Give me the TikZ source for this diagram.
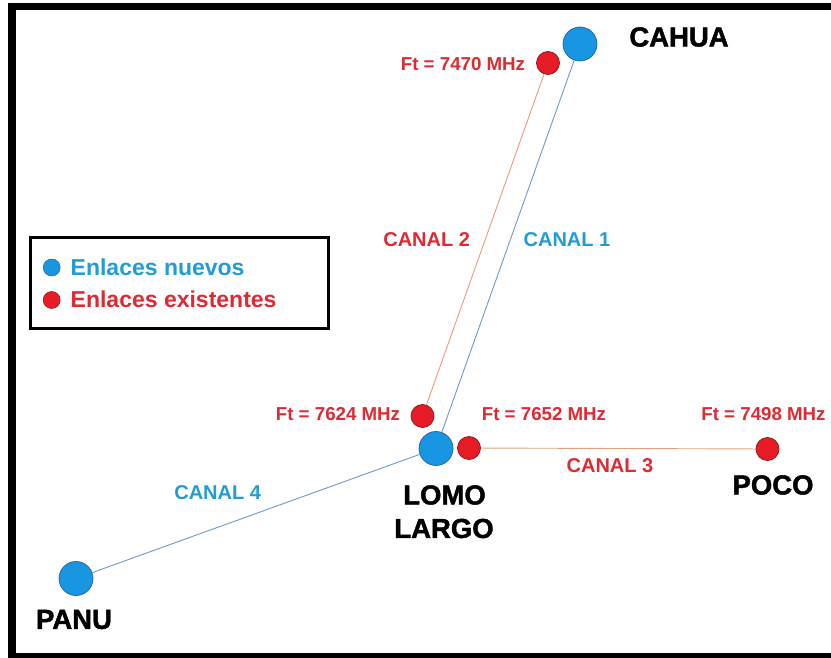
\documentclass[tikz,border=0pt]{standalone}
\usepackage{fontspec}
\setmainfont{Liberation Sans}
\newfontfamily\heavyfont[BoldFeatures={FakeBold=1.6}]{Liberation Sans}
\definecolor{dotblue}{RGB}{24,150,226}
\definecolor{dotblueline}{RGB}{40,95,160}
\definecolor{dotred}{RGB}{232,28,38}
\definecolor{dotredline}{RGB}{130,20,22}
\definecolor{txtred}{RGB}{222,42,50}
\definecolor{txtblue}{RGB}{34,156,212}
\definecolor{linkblue}{RGB}{110,155,200}
\definecolor{linkorange}{RGB}{225,160,125}
\tikzset{
  bluedot/.style={circle, fill=dotblue, draw=dotblueline, line width=0.7pt, minimum size=34pt, inner sep=0pt},
  reddot/.style={circle, fill=dotred, draw=dotredline, line width=0.7pt, minimum size=23pt, inner sep=0pt},
  legblue/.style={circle, fill=dotblue, draw=dotblueline, line width=0.5pt, minimum size=17pt, inner sep=0pt},
  legred/.style={circle, fill=dotred, draw=dotredline, line width=0.5pt, minimum size=17pt, inner sep=0pt},
  site/.style={inner sep=0pt, font=\heavyfont\fontsize{27.5}{30}\selectfont\bfseries, text=black},
  freq/.style={inner sep=0pt, font=\fontsize{18.7}{21}\selectfont\bfseries, text=txtred},
  canalred/.style={inner sep=0pt, font=\fontsize{20}{23}\selectfont\bfseries, text=txtred},
  canalblue/.style={inner sep=0pt, font=\fontsize{20}{23}\selectfont\bfseries, text=txtblue},
  legtext/.style={inner sep=0pt, anchor=west, font=\fontsize{23}{26}\selectfont\bfseries},
  bluelink/.style={draw=linkblue, line width=0.9pt},
  orangelink/.style={draw=linkorange, line width=0.9pt}
}
\begin{document}
\begin{tikzpicture}[x=1pt,y=-1pt]
\useasboundingbox (0,0) rectangle (831,658);
\fill[white] (0,0) rectangle (831,658);
% frame
\fill[black] (8,3) rectangle (831,10);
\fill[black] (8,3) rectangle (16,658);
\fill[black] (8,653) rectangle (831,658);

% stations
\node[bluedot] (cahua) at (580,44) {};
\node[reddot] (rcahua) at (548,63) {};
\node[bluedot] (lomo) at (436,448.5) {};
\node[reddot] (rlomoA) at (422.5,416) {};
\node[reddot] (rlomoB) at (469,448) {};
\node[reddot] (poco) at (767.5,449) {};
\node[bluedot] (panu) at (76,578.5) {};

% links
\draw[orangelink] (rlomoA) -- (rcahua);
\draw[bluelink] (lomo) -- (cahua);
\draw[orangelink] (rlomoB) -- (poco);
\draw[bluelink] (panu) -- (lomo);

% site names
\node[site] (tcahua) at (679,37) {CAHUA};
\node[site] (tlomo) at (444.5,495) {LOMO};
\node[site] (tlargo) at (444,528.5) {LARGO};
\node[site] (tpoco) at (773,485) {POCO};
\node[site] (tpanu) at (74,619.5) {PANU};

% frequencies
\node[freq] (f1) at (463,64) {Ft = 7470 MHz};
\node[freq] (f2) at (338,414) {Ft = 7624 MHz};
\node[freq] (f3) at (544,414) {Ft = 7652 MHz};
\node[freq] (f4) at (763.5,414) {Ft = 7498 MHz};

% channels
\node[canalred] (c2) at (426.7,239.5) {CANAL 2};
\node[canalblue] (c1) at (567,239.5) {CANAL 1};
\node[canalred] (c3) at (610,466) {CANAL 3};
\node[canalblue] (c4) at (217.7,493) {CANAL 4};

% legend
\node[draw=black, line width=3pt, minimum width=297.5pt, minimum height=91pt, inner sep=0pt] (legend) at (179.6,283) {};
\node[legblue] (lb) at (51.7,267.5) {};
\node[legred] (lr) at (51.7,300) {};
\node[legtext, text=txtblue] (ltb) at (70.5,267.5) {Enlaces nuevos};
\node[legtext, text=txtred] (ltr) at (70.5,299.5) {Enlaces existentes};
\end{tikzpicture}
\end{document}
